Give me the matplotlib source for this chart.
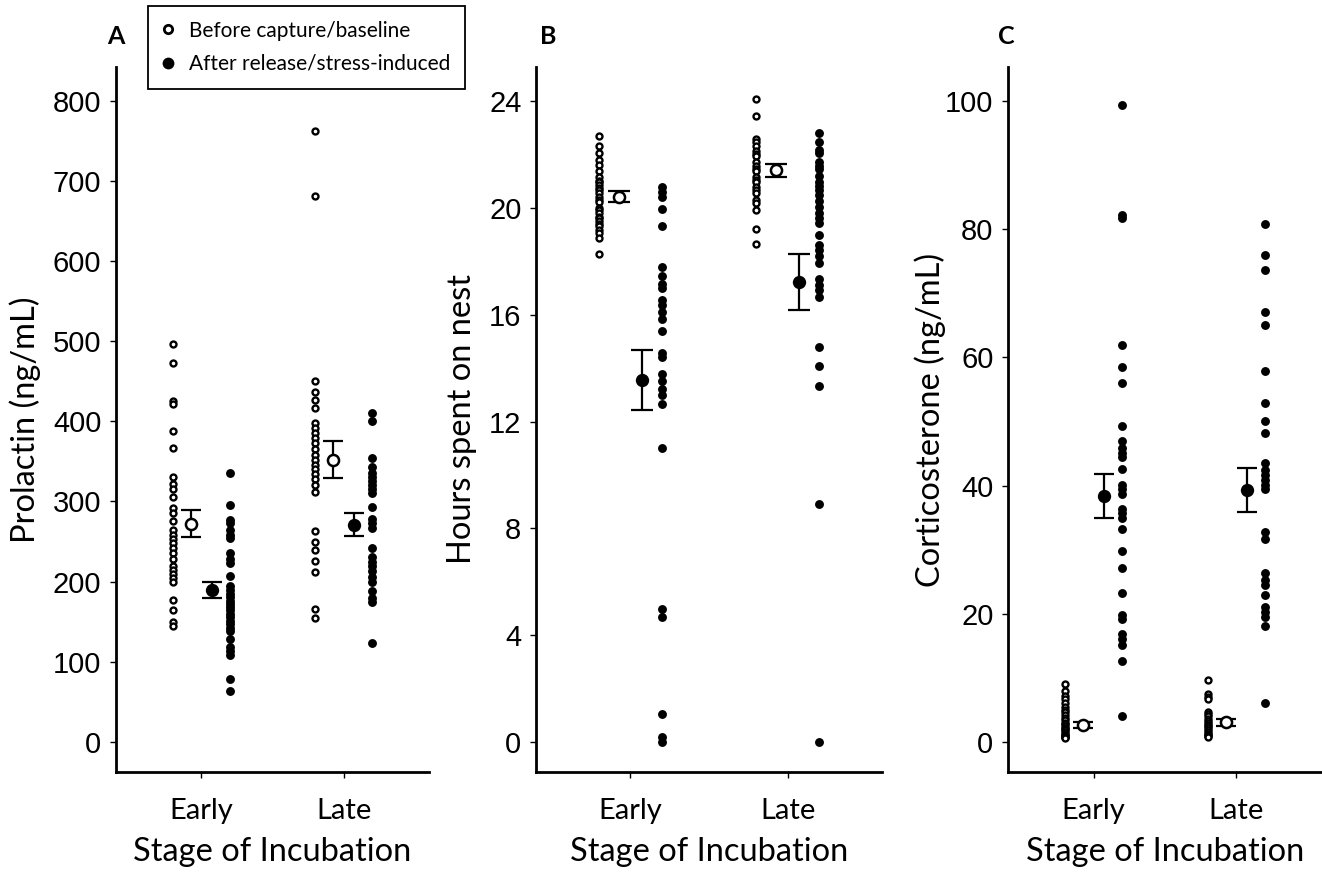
import matplotlib
matplotlib.use("Agg")
import matplotlib.pyplot as plt
from matplotlib.lines import Line2D
import numpy as np

# ---------------- data ----------------
stages = ["Early", "Late"]
legend_labels = ["Before capture/baseline", "After release/stress-induced"]

# Panel A: prolactin (ng/mL)
prl_base_early = [497, 473, 425, 422, 388, 367, 330, 322, 315, 305, 292, 285, 276, 265,
                  258, 253, 248, 242, 236, 228, 220, 215, 209, 204, 200, 177, 164, 150, 145]
prl_stress_early = [336, 295, 277, 273, 265, 258, 254, 236, 228, 223, 207, 194, 189, 185,
                    181, 176, 172, 168, 164, 160, 156, 151, 147, 142, 138, 129, 119, 113,
                    109, 78, 64]
prl_base_late = [762, 681, 450, 437, 426, 417, 398, 392, 385, 379, 373, 365, 358, 352,
                 346, 340, 334, 328, 320, 312, 263, 249, 240, 226, 212, 166, 155]
prl_stress_late = [410, 400, 354, 343, 336, 330, 325, 320, 315, 310, 293, 278, 273, 267,
                   242, 231, 225, 219, 213, 206, 200, 188, 179, 174, 124]
prl_base_mean = [272.5, 352]
prl_base_se = [16.5, 23]
prl_stress_mean = [189, 271]
prl_stress_se = [10, 14]

# Panel B: hours spent on nest
nest_base_early = [22.67, 22.32, 22.05, 21.8, 21.6, 21.36, 21.15, 21.0, 20.95, 20.85,
                   20.74, 20.65, 20.55, 20.4, 20.3, 20.2, 20.0, 19.9, 19.82, 19.67,
                   19.6, 19.49, 19.4, 19.3, 19.15, 19.05, 18.86, 18.27]
nest_stress_early = [20.77, 20.6, 20.42, 19.95, 19.3, 17.8, 17.45, 17.14, 17.0, 16.55,
                     16.37, 16.1, 15.83, 15.4, 14.56, 14.43, 13.78, 13.5, 13.2, 13.0,
                     12.66, 11.0, 4.97, 4.67, 1.04, 0.2, 0.0]
nest_base_late = [24.07, 23.42, 22.57, 22.45, 22.3, 22.13, 22.0, 21.92, 21.73, 21.55,
                  21.45, 21.36, 21.15, 21.05, 20.95, 20.76, 20.65, 20.55, 20.3, 20.18,
                  19.9, 19.2, 18.65]
nest_stress_late = [22.8, 22.45, 22.17, 22.05, 21.73, 21.57, 21.45, 21.2, 20.95, 20.8,
                    20.67, 20.49, 20.24, 20.03, 19.8, 19.6, 19.43, 18.99, 18.6, 18.43,
                    18.18, 17.93, 17.33, 17.12, 16.93, 16.65, 14.8, 14.06, 13.33, 8.91, 0.0]
nest_base_mean = [20.42, 21.41]
nest_base_se = [0.19, 0.24]
nest_stress_mean = [13.55, 17.23]
nest_stress_se = [1.11, 1.05]

# Panel C: corticosterone (ng/mL)
cort_base_early = [9.0, 7.9, 7.2, 6.7, 6.0, 5.4, 5.0, 4.6, 4.2, 3.7, 3.4, 3.0, 2.8, 2.5,
                   2.2, 2.0, 1.8, 1.5, 1.3, 1.1, 0.9, 0.8, 0.7, 0.6]
cort_stress_early = [99.3, 82.2, 81.7, 62.0, 58.5, 56.0, 49.3, 47.0, 45.8, 45.1, 44.4,
                     42.5, 40.1, 39.4, 38.7, 36.4, 35.7, 35.0, 33.2, 29.8, 27.2, 23.3,
                     19.8, 19.1, 16.9, 16.0, 15.1, 12.6, 4.05]
cort_base_late = [9.7, 7.5, 7.0, 6.7, 4.7, 4.3, 4.0, 3.6, 3.3, 3.0, 2.7, 2.4, 2.1, 1.9,
                  1.6, 1.3, 1.1, 0.9, 0.7]
cort_stress_late = [80.8, 76.0, 73.6, 67.0, 65.0, 57.9, 52.8, 50.0, 48.2, 43.5, 42.4,
                    41.6, 40.9, 40.1, 39.4, 32.8, 31.6, 26.3, 25.3, 24.5, 22.9, 21.1,
                    20.3, 19.5, 18.1, 6.1]
cort_base_mean = [2.65, 3.07]
cort_base_se = [0.52, 0.52]
cort_stress_mean = [38.4, 39.3]
cort_stress_se = [3.4, 3.5]

# ---------------- figure ----------------
W, H = 1322, 874
fig = plt.figure(figsize=(W / 100, H / 100), dpi=100)

TICKFONT = "Liberation Sans"
LABFONT = "Lato"

panels = [
    dict(rect=(116, 313), letter="A", letter_x=116, ylabel="Prolactin (ng/mL)", ylab_x=25,
         ylim=(-37.5, 842), yticks=np.arange(0, 801, 100),
         raw=[(prl_base_early, prl_stress_early), (prl_base_late, prl_stress_late)],
         bm=prl_base_mean, bs=prl_base_se, sm=prl_stress_mean, ss=prl_stress_se, cap=7.5),
    dict(rect=(536, 346), letter="B", letter_x=548, ylabel="Hours spent on nest", ylab_x=462,
         ylim=(-1.12, 25.27), yticks=np.arange(0, 25, 4),
         raw=[(nest_base_early, nest_stress_early), (nest_base_late, nest_stress_late)],
         bm=nest_base_mean, bs=nest_base_se, sm=nest_stress_mean, ss=nest_stress_se, cap=8.2),
    dict(rect=(1008, 314), letter="C", letter_x=1006, ylabel="Corticosterone (ng/mL)", ylab_x=930,
         ylim=(-4.7, 105.3), yticks=np.arange(0, 101, 20),
         raw=[(cort_base_early, cort_stress_early), (cort_base_late, cort_stress_late)],
         bm=cort_base_mean, bs=cort_base_se, sm=cort_stress_mean, ss=cort_stress_se, cap=7.5),
]

ax_bottom_px, ax_top_px = 772, 67
pos = np.arange(1, len(stages) + 1)

for p in panels:
    left, width = p["rect"]
    ax = fig.add_axes([left / W, 1 - ax_bottom_px / H, width / W, (ax_bottom_px - ax_top_px) / H])
    for i, (base, stress) in enumerate(p["raw"]):
        x = pos[i]
        ax.plot(np.full(len(base), x - 0.2), base, "o", ms=4.3, mfc="white", mec="black",
                mew=1.7, linestyle="none", zorder=3)
        ax.plot(np.full(len(stress), x + 0.2), stress, "o", ms=6.4, mfc="black", mec="black",
                mew=0, linestyle="none", zorder=3)
    # error bars (SE) with caps
    ax.errorbar(pos - 0.075, p["bm"], yerr=p["bs"], fmt="none", ecolor="black",
                elinewidth=1.6, capsize=p["cap"], capthick=1.6, zorder=4)
    ax.errorbar(pos + 0.075, p["sm"], yerr=p["ss"], fmt="none", ecolor="black",
                elinewidth=1.6, capsize=p["cap"], capthick=1.6, zorder=4)
    # mean markers
    ax.plot(pos - 0.075, p["bm"], "o", ms=8.0, mfc="white", mec="black", mew=1.8,
            linestyle="none", zorder=5)
    ax.plot(pos + 0.075, p["sm"], "o", ms=9.6, mfc="black", mec="black", mew=0,
            linestyle="none", zorder=5)

    ax.set_xlim(0.4, 2.6)
    ax.set_ylim(*p["ylim"])
    ax.set_yticks(p["yticks"])
    ax.set_xticks(pos)
    ax.set_xticklabels(stages, fontfamily=LABFONT, fontsize=21)
    ax.set_yticklabels([str(int(v)) for v in p["yticks"]], fontfamily=TICKFONT, fontsize=21)
    for s in ["top", "right"]:
        ax.spines[s].set_visible(False)
    for s in ["left", "bottom"]:
        ax.spines[s].set_linewidth(2.0)
    ax.tick_params(axis="y", length=4.5, width=1.0, pad=6, colors="black")
    ax.tick_params(axis="x", length=4.5, width=1.0, pad=14.5, colors="black")
    ax.set_xlabel("Stage of Incubation", fontfamily=LABFONT, fontsize=23.5, labelpad=9)
    ax.set_ylabel(p["ylabel"], fontfamily=LABFONT, fontsize=23.5, va="center")
    ax.yaxis.set_label_coords((p["ylab_x"] - left) / width, 0.5)
    fig.text(p["letter_x"] / W, 1 - 37 / H, p["letter"], fontfamily=LABFONT, fontsize=18,
             fontweight="bold", ha="center", va="center")

handles = [
    Line2D([], [], marker="o", linestyle="none", ms=6.0, mfc="white", mec="black", mew=2.0),
    Line2D([], [], marker="o", linestyle="none", ms=8.5, mfc="black", mec="black", mew=0),
]
leg = fig.legend(handles, legend_labels, loc="upper left",
                 bbox_to_anchor=(148 / W, 1 - 6 / H), bbox_transform=fig.transFigure,
                 frameon=True, fancybox=False, edgecolor="black", framealpha=1,
                 prop=dict(family=LABFONT, size=15), handlelength=0.5, handletextpad=0.75,
                 borderpad=0.7, labelspacing=0.64, borderaxespad=0)
leg.get_frame().set_linewidth(1.3)

fig.savefig("out.png", dpi=100)
